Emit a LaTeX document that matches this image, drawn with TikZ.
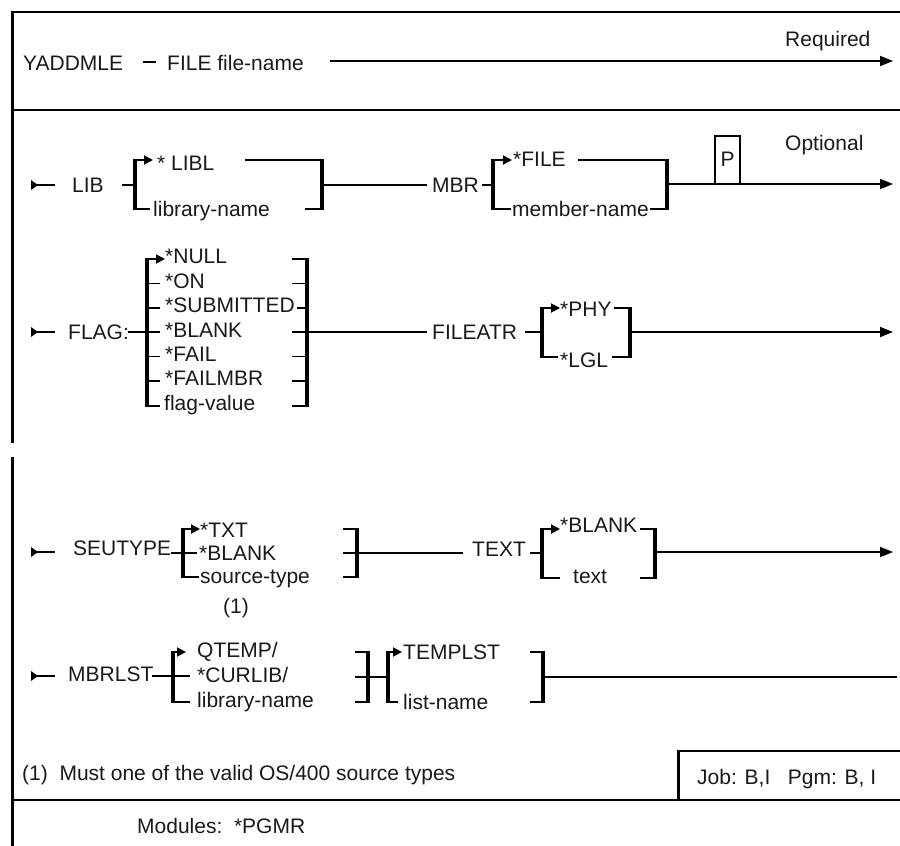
\documentclass[tikz,border=0pt]{standalone}
\usepackage{fontspec}
\setmainfont{Liberation Sans}
\usetikzlibrary{arrows.meta}
\begin{document}
\begin{tikzpicture}[x=1pt,y=-1pt,
  txt/.style={anchor=base west,inner sep=0pt,font=\fontsize{21}{25}\selectfont,text=black!90},
  wire/.style={line width=1.8pt},
  bar/.style={line width=3.5pt,shorten <=-0.9pt,shorten >=-0.9pt},
  frame/.style={line width=2pt},
  leftframe/.style={line width=3pt},
  endarrow/.style={-{Triangle[length=13pt,width=10pt]}},
  inarrow/.style={-{Triangle[length=9pt,width=9pt]}},
]
\useasboundingbox (0,0) rectangle (900,846);

% ---------------- frame ----------------
\coordinate (fTL) at (12,12);   \coordinate (fTR) at (900,12);
\coordinate (fD1L) at (12,110); \coordinate (fD1R) at (900,110);
\coordinate (fL1) at (12,443);  \coordinate (fL2) at (12,457);
\coordinate (fBL) at (12,846);
\coordinate (fD2L) at (12,800); \coordinate (fD2R) at (900,800);
\coordinate (bx1) at (678,800); \coordinate (bx2) at (678,751); \coordinate (bx3) at (900,751);
\draw[frame] (fTL) -- (fTR);
\draw[frame] (fD1L) -- (fD1R);
\draw[frame] (fD2L) -- (fD2R);
\draw[leftframe] ([yshift=1pt]fTL) -- (fL1);
\draw[leftframe] (fL2) -- (fBL);
\draw[leftframe] (bx1) -- (bx2);
\draw[frame] ([xshift=-1.5pt]bx2) -- (bx3);

% ---------------- required line ----------------
\node[txt] (yad) at (23,70.5) {YADDMLE};
\coordinate (d1) at (143,62); \coordinate (d2) at (156,62);
\draw[line width=2.2pt] (d1) -- (d2);
\node[txt] (file) at (167,70.5) {FILE file-name};
\coordinate (r1) at (330,61); \coordinate (r2) at (893,61);
\draw[wire,endarrow] (r1) -- (r2);
\node[txt] (req) at (785,46) {Required};

% ---------------- start markers ----------------
\foreach \yy/\nm in {185/lib,332/flag,552/seu,676/mbr}{
  \coordinate (s\nm) at (31,\yy);
  \coordinate (t\nm) at (55,\yy);
  \fill (s\nm) ++(0,-5) -- ++(7,5) -- ++(-7,5) -- cycle;
  \draw[wire] ([xshift=6pt]s\nm) -- (t\nm);
}

% ---------------- LIB / MBR row ----------------
\node[txt] (lib) at (72,192.5) {LIB};
\coordinate (la1) at (122,185); \coordinate (lbT) at (135,160); \coordinate (lbB) at (135,209);
\coordinate (lbL) at (135,185);
\draw[wire] (la1) -- (lbL);
\draw[bar] (lbT) -- (lbB);
\coordinate (la2) at (153,160);
\draw[wire,inarrow] (lbT) -- (la2);
\node[txt] (libl) at (157,170) {* LIBL};
\coordinate (la3) at (245,160); \coordinate (rbT) at (322,160); \coordinate (rbB) at (322,209);
\draw[wire] (la3) -- (rbT);
\draw[bar] (rbT) -- (rbB);
\coordinate (la4) at (150,209);
\draw[wire] (lbB) -- (la4);
\node[txt] (libname) at (153,216) {library-name};
\coordinate (la5) at (305,209);
\draw[wire] (la5) -- (rbB);
\coordinate (rbM) at (322,185); \coordinate (la6) at (427,185);
\draw[wire] (rbM) -- (la6);
\node[txt] (mbr) at (432,192.5) {MBR};
\coordinate (ma1) at (482,185); \coordinate (mbM) at (493,185);
\coordinate (mbT) at (493,160); \coordinate (mbB) at (493,209);
\draw[wire] (ma1) -- (mbM);
\draw[bar] (mbT) -- (mbB);
\coordinate (ma2) at (512,160);
\draw[wire,inarrow] (mbT) -- (ma2);
\node[txt] (sfile) at (513,166) {*FILE};
\coordinate (ma3) at (578,160); \coordinate (mrT) at (667,160); \coordinate (mrB) at (667,209);
\draw[wire] (ma3) -- (mrT);
\draw[bar] (mrT) -- (mrB);
\coordinate (ma4) at (511,209);
\draw[wire] (mbB) -- (ma4);
\node[txt] (memname) at (512,216) {member-name};
\coordinate (ma5) at (650,209);
\draw[wire] (ma5) -- (mrB);
\coordinate (mrM) at (667,184); \coordinate (ma6) at (893,184);
\draw[wire,endarrow] (mrM) -- (ma6);
\coordinate (p1) at (715,184); \coordinate (p2) at (715,136);
\coordinate (p3) at (740,136); \coordinate (p4) at (740,184);
\draw[frame] (p1) -- (p2) -- (p3) -- (p4);
\node[txt] (pp) at (720.5,166) {P};
\node[txt] (opt) at (785,150) {Optional};

% ---------------- FLAG / FILEATR row ----------------
\node[txt] (flag) at (68,339) {FLAG:};
\coordinate (fa1) at (128,332);
\coordinate (fbT) at (147,259); \coordinate (fbB) at (147,406);
\coordinate (frT) at (307,259); \coordinate (frB) at (307,406);
\draw[bar] (fbT) -- (fbB);
\draw[bar] (frT) -- (frB);
\coordinate (fa2) at (165,259);
\draw[wire,inarrow] (fbT) -- (fa2);
\node[txt] (fnull) at (165,263.5) {*NULL};
\node[txt] (fon)   at (165,288)   {*ON};
\node[txt] (fsub)  at (165,312.5) {*SUBMITTED};
\node[txt] (fblk)  at (165,337)   {*BLANK};
\node[txt] (ffail) at (165,361)   {*FAIL};
\node[txt] (ffmb)  at (165,385.5) {*FAILMBR};
\node[txt] (fval)  at (164,410.5) {flag-value};
\foreach \ry/\nm in {283.5/a,308/b,356.5/d,381/e,406/f}{
  \coordinate (fl\nm) at (147,\ry); \coordinate (fm\nm) at (160,\ry);
  \draw[wire] (fl\nm) -- (fm\nm);
}
\coordinate (flc) at (160,332);
\draw[wire] (fa1) -- (flc);
\foreach \ry/\nm in {259/a,283.5/b,332/d,356.5/e,381/f,406/g}{
  \coordinate (fr\nm) at (292,\ry); \coordinate (fs\nm) at (307,\ry);
  \draw[wire] (fr\nm) -- (fs\nm);
}
\coordinate (frc) at (297,308); \coordinate (fsc) at (307,308);
\draw[wire] (frc) -- (fsc);
\coordinate (fa3) at (427,332);
\draw[wire] (fsd) -- (fa3);
\node[txt] (fatr) at (432,339) {FILEATR};
\coordinate (aa1) at (525,332); \coordinate (abM) at (542,332);
\coordinate (abT) at (542,308); \coordinate (abB) at (542,357);
\coordinate (arT) at (630,308); \coordinate (arB) at (630,357); \coordinate (arM) at (630,332);
\draw[wire] (aa1) -- (abM);
\draw[bar] (abT) -- (abB);
\draw[bar] (arT) -- (arB);
\coordinate (aa2) at (560,308);
\draw[wire,inarrow] (abT) -- (aa2);
\node[txt] (phy) at (560,316.5) {*PHY};
\coordinate (aa3) at (614,308);
\draw[wire] (aa3) -- (arT);
\coordinate (aa4) at (558,357);
\draw[wire] (abB) -- (aa4);
\node[txt] (lgl) at (560,367.5) {*LGL};
\coordinate (aa5) at (612,357);
\draw[wire] (aa5) -- (arB);
\coordinate (aa6) at (893,332);
\draw[wire,endarrow] (arM) -- (aa6);

% ---------------- SEUTYPE / TEXT row ----------------
\node[txt] (seu) at (73,555) {SEUTYPE};
\coordinate (sa1) at (171,553); \coordinate (sbM) at (183,553);
\coordinate (sbT) at (183,529); \coordinate (sbB) at (183,577);
\draw[wire] (sa1) -- (sbM);
\draw[bar] (sbT) -- (sbB);
\coordinate (sa2) at (200,529);
\draw[wire,inarrow] (sbT) -- (sa2);
\node[txt] (stxt) at (200,537) {*TXT};
\coordinate (sa3) at (197,553);
\draw[wire] (sbM) -- (sa3);
\node[txt] (sblk) at (199,560) {*BLANK};
\coordinate (sa4) at (199,577);
\draw[wire] (sbB) -- (sa4);
\node[txt] (stype) at (200,583) {source-type};
\node[txt] (snote) at (223,613) {(1)};
\coordinate (srT) at (357,529); \coordinate (srM) at (357,553); \coordinate (srB) at (357,577);
\draw[bar] (srT) -- (srB);
\foreach \ry/\nm in {529/a,553/b,577/c}{
  \coordinate (sr\nm) at (343,\ry); \coordinate (ss\nm) at (357,\ry);
  \draw[wire] (sr\nm) -- (ss\nm);
}
\coordinate (sa5) at (463,553);
\draw[wire] (srM) -- (sa5);
\node[txt] (text) at (472,556) {TEXT};
\coordinate (ta1) at (530,553); \coordinate (tbM) at (542,553);
\coordinate (tbT) at (542,529); \coordinate (tbB) at (542,578);
\coordinate (trT) at (655,529); \coordinate (trB) at (655,578); \coordinate (trM) at (655,552);
\draw[wire] (ta1) -- (tbM);
\draw[bar] (tbT) -- (tbB);
\draw[bar] (trT) -- (trB);
\coordinate (ta2) at (560,529);
\draw[wire,inarrow] (tbT) -- (ta2);
\node[txt] (tblk) at (560,532) {*BLANK};
\coordinate (ta3) at (640,529);
\draw[wire] (ta3) -- (trT);
\coordinate (ta4) at (560,578);
\draw[wire] (tbB) -- (ta4);
\node[txt] (ttext) at (573,583) {text};
\coordinate (ta5) at (640,578);
\draw[wire] (ta5) -- (trB);
\coordinate (ta6) at (893,552);
\draw[wire,endarrow] (trM) -- (ta6);

% ---------------- MBRLST row ----------------
\node[txt] (mbrl) at (68,681) {MBRLST};
\coordinate (ka1) at (152,676); \coordinate (ka2) at (190,676);
\coordinate (kbT) at (173,652); \coordinate (kbB) at (173,702);
\draw[wire] (ka1) -- (ka2);
\draw[bar] (kbT) -- (kbB);
\coordinate (ka3) at (186,652);
\draw[wire,inarrow] (kbT) -- (ka3);
\node[txt] (qtmp) at (197,657) {QTEMP/};
\node[txt] (curl) at (197,682) {*CURLIB/};
\coordinate (ka4) at (190,702);
\draw[wire] (kbB) -- (ka4);
\node[txt] (klib) at (197,707) {library-name};
\coordinate (krT) at (368,652); \coordinate (krB) at (368,702); \coordinate (krM) at (368,677);
\draw[bar] (krT) -- (krB);
\foreach \ry/\nm in {652/a,677/b,702/c}{
  \coordinate (kr\nm) at (355,\ry); \coordinate (ks\nm) at (368,\ry);
  \draw[wire] (kr\nm) -- (ks\nm);
}
\coordinate (lbM2) at (388,677);
\coordinate (lbT2) at (388,652); \coordinate (lbB2) at (388,702);
\draw[wire] (krM) -- (lbM2);
\draw[bar] (lbT2) -- (lbB2);
\coordinate (ka5) at (402,652);
\draw[wire,inarrow] (lbT2) -- (ka5);
\node[txt] (tmpl) at (403,659) {TEMPLST};
\coordinate (ka6) at (398,702);
\draw[wire] (lbB2) -- (ka6);
\node[txt] (lstn) at (403,709) {list-name};
\coordinate (lrT2) at (543,652); \coordinate (lrB2) at (543,702); \coordinate (lrM2) at (543,677);
\draw[bar] (lrT2) -- (lrB2);
\coordinate (ka7) at (530,652); \coordinate (ka8) at (530,702);
\draw[wire] (ka7) -- (lrT2);
\draw[wire] (ka8) -- (lrB2);
\coordinate (ka9) at (897,677);
\draw[wire] (lrM2) -- (ka9);

% ---------------- footer ----------------
\node[txt] (fn) at (22,780) {(1)~~Must one of the valid OS/400 source types};
\node[txt] (job) at (697,784) {Job: B,I~~~Pgm: B, I};
\node[txt] (mods) at (137,833) {Modules:~~*PGMR};
\end{tikzpicture}
\end{document}
